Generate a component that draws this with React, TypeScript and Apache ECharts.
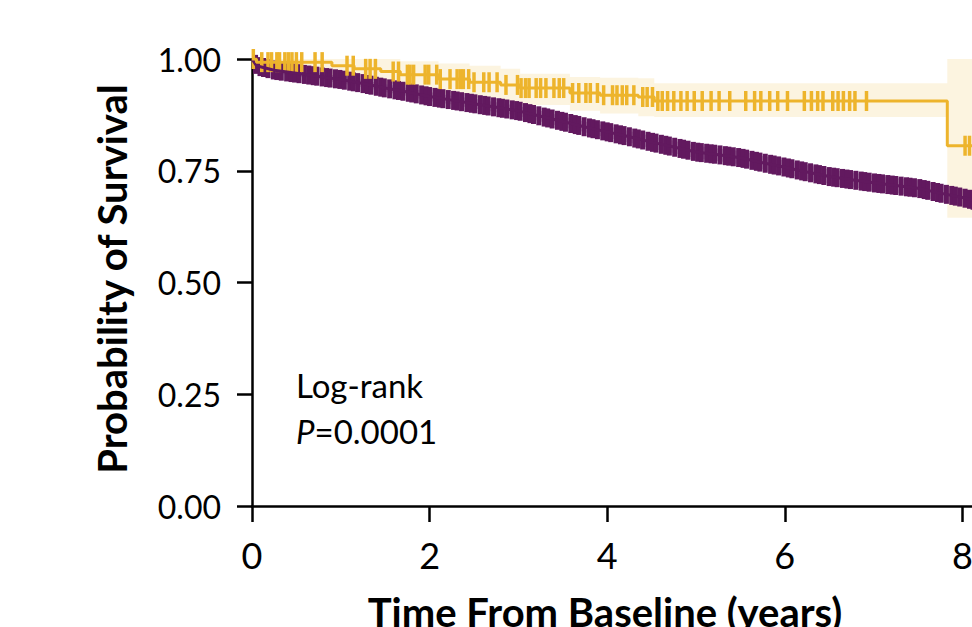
import React, { useEffect, useRef } from "react";
import * as echarts from "echarts";

// ---- Data ----
const xTitle = "Time From Baseline (years)";
const yTitle = "Probability of Survival";
const yTickLabels = ["0.00", "0.25", "0.50", "0.75", "1.00"];

// Group 1 (purple)
const purpleT = [0, 0.05, 0.25, 0.5, 0.75, 1.0, 1.25, 1.5, 1.75, 2.0, 2.25, 2.5, 2.75, 3.0, 3.25, 3.5, 3.75, 4.0, 4.25, 4.5, 4.75, 5.0, 5.25, 5.5, 5.75, 6.0, 6.25, 6.5, 6.75, 7.0, 7.25, 7.5, 7.75, 8.0, 8.25];
const purpleS = [1.0, 0.985, 0.975, 0.968, 0.961, 0.954, 0.945, 0.935, 0.926, 0.916, 0.908, 0.9, 0.892, 0.884, 0.872, 0.86, 0.848, 0.837, 0.826, 0.814, 0.803, 0.792, 0.786, 0.779, 0.768, 0.758, 0.747, 0.737, 0.73, 0.723, 0.717, 0.711, 0.7, 0.69, 0.678];
const purpleUpper = [1.0, 0.99, 0.981, 0.975, 0.968, 0.962, 0.953, 0.944, 0.935, 0.926, 0.918, 0.911, 0.903, 0.895, 0.884, 0.872, 0.86, 0.85, 0.839, 0.828, 0.817, 0.806, 0.8, 0.794, 0.783, 0.773, 0.763, 0.753, 0.746, 0.74, 0.734, 0.729, 0.719, 0.71, 0.699];
const purpleLower = [1.0, 0.98, 0.969, 0.961, 0.954, 0.946, 0.937, 0.926, 0.917, 0.906, 0.898, 0.889, 0.881, 0.873, 0.86, 0.848, 0.836, 0.824, 0.813, 0.8, 0.789, 0.778, 0.772, 0.764, 0.753, 0.743, 0.731, 0.721, 0.714, 0.706, 0.7, 0.693, 0.681, 0.67, 0.657];
const purpleCensor = [0.04, 0.09, 0.13, 0.18, 0.24, 0.28, 0.33, 0.39, 0.44, 0.48, 0.53, 0.59, 0.64, 0.69, 0.73, 0.79, 0.84, 0.88, 0.94, 0.99, 1.04, 1.1, 1.14, 1.19, 1.25, 1.3, 1.34, 1.4, 1.45, 1.49, 1.55, 1.61, 1.65, 1.7, 1.76, 1.8, 1.85, 1.91, 1.96, 2.0, 2.06, 2.11, 2.15, 2.21, 2.27, 2.31, 2.36, 2.42, 2.47, 2.51, 2.57, 2.62, 2.66, 2.72, 2.78, 2.82, 2.87, 2.93, 2.98, 3.02, 3.08, 3.13, 3.17, 3.23, 3.29, 3.33, 3.38, 3.44, 3.49, 3.53, 3.59, 3.64, 3.68, 3.74, 3.8, 3.84, 3.89, 3.95, 4.0, 4.04, 4.1, 4.15, 4.19, 4.25, 4.31, 4.35, 4.4, 4.46, 4.51, 4.55, 4.61, 4.66, 4.7, 4.76, 4.82, 4.86, 4.91, 4.97, 5.02, 5.06, 5.12, 5.17, 5.21, 5.27, 5.33, 5.37, 5.42, 5.48, 5.53, 5.57, 5.63, 5.68, 5.72, 5.78, 5.84, 5.88, 5.93, 5.99, 6.04, 6.08, 6.14, 6.19, 6.23, 6.29, 6.35, 6.39, 6.44, 6.5, 6.55, 6.59, 6.65, 6.7, 6.74, 6.8, 6.86, 6.9, 6.95, 7.01, 7.06, 7.1, 7.16, 7.21, 7.25, 7.31, 7.37, 7.41, 7.46, 7.52, 7.57, 7.61, 7.67, 7.72, 7.76, 7.82, 7.88, 7.92, 7.97, 8.03, 8.08, 8.12, 8.18, 8.23];

// Group 2 (yellow) - Kaplan-Meier steps
const yellowT = [0, 0.05, 0.9, 1.15, 1.45, 1.67, 2.1, 2.45, 2.8, 3.02, 3.58, 3.92, 4.35, 4.53, 7.83, 8.4];
const yellowS = [1.0, 0.993, 0.985, 0.978, 0.972, 0.965, 0.955, 0.948, 0.942, 0.935, 0.924, 0.919, 0.915, 0.906, 0.806, 0.806];
const yellowUpper = [1.0, 1.0, 1.0, 1.0, 1.0, 0.995, 0.99, 0.985, 0.978, 0.967, 0.96, 0.958, 0.957, 0.946, 1.0, 1.0];
const yellowLower = [1.0, 0.975, 0.962, 0.952, 0.944, 0.935, 0.922, 0.913, 0.905, 0.897, 0.884, 0.878, 0.872, 0.87, 0.645, 0.645];
const yellowCensor = [0.015, 0.11, 0.18, 0.22, 0.28, 0.31, 0.37, 0.41, 0.45, 0.5, 0.56, 0.71, 0.79, 1.07, 1.14, 1.28, 1.33, 1.39, 1.59, 1.65, 1.75, 1.78, 1.82, 1.95, 1.99, 2.08, 2.12, 2.23, 2.31, 2.35, 2.38, 2.44, 2.5, 2.61, 2.67, 2.76, 2.86, 2.99, 3.03, 3.08, 3.12, 3.2, 3.25, 3.31, 3.4, 3.46, 3.51, 3.61, 3.68, 3.76, 3.81, 3.89, 3.96, 4.06, 4.11, 4.17, 4.22, 4.3, 4.4, 4.45, 4.51, 4.57, 4.62, 4.68, 4.75, 4.83, 4.9, 4.98, 5.07, 5.17, 5.26, 5.38, 5.56, 5.66, 5.73, 5.83, 5.92, 6.03, 6.22, 6.3, 6.37, 6.43, 6.54, 6.6, 6.66, 6.73, 6.79, 6.92, 8.03, 8.08];

const PURPLE = "#62195F";
const YELLOW = "#EDB42C";
const FONT = "Lato";

function interp(ts: number[], vs: number[], t: number): number {
  for (let i = 1; i < ts.length; i++) {
    if (t <= ts[i]) {
      const f = (t - ts[i - 1]) / (ts[i] - ts[i - 1]);
      return vs[i - 1] + f * (vs[i] - vs[i - 1]);
    }
  }
  return vs[vs.length - 1];
}
function stepVal(ts: number[], vs: number[], t: number): number {
  let v = vs[0];
  for (let i = 0; i < ts.length; i++) if (ts[i] <= t) v = vs[i];
  return v;
}

// band polygon builders (in data space); converted with the axis scales in renderItem
function smoothBand(ts: number[], lo: number[], hi: number[]): number[][] {
  const top = ts.map((t, i) => [t, hi[i]]);
  const bot = ts.map((t, i) => [t, lo[i]]).reverse();
  return top.concat(bot);
}
function stepBand(ts: number[], lo: number[], hi: number[]): number[][] {
  const top: number[][] = [];
  const bot: number[][] = [];
  for (let i = 0; i < ts.length; i++) {
    const tNext = i < ts.length - 1 ? ts[i + 1] : ts[i];
    top.push([ts[i], hi[i]], [tNext, hi[i]]);
    bot.push([ts[i], lo[i]], [tNext, lo[i]]);
  }
  return top.concat(bot.reverse());
}

export default function App() {
  const ref = useRef<HTMLDivElement>(null);
  useEffect(() => {
    if (!ref.current) return;
    const chart = echarts.init(ref.current, undefined, { renderer: "svg" });
    const pair = (ts: number[], vs: number[]) => ts.map((t, i) => [t, vs[i]]);
    const bandSeries = (pts: number[][], color: string) => ({
      type: "custom",
      silent: true,
      data: [[pts[0][0], pts[0][1]]],
      renderItem: (_p: any, api: any) => ({
        type: "polygon",
        shape: { points: pts.map((p) => api.coord(p)) },
        style: { fill: color },
      }),
    });
    const option: any = {
      animation: false,
      backgroundColor: "#fff",
      grid: { left: 252, top: 59, width: 888, height: 447 },
      xAxis: {
        type: "value", min: 0, max: 10, interval: 2,
        axisLine: { lineStyle: { color: "#000", width: 2.5 } },
        axisTick: { length: 16, lineStyle: { color: "#000", width: 2.5 } },
        axisLabel: { color: "#000", fontSize: 36, fontFamily: FONT, margin: 31 },
        splitLine: { show: false },
      },
      yAxis: {
        type: "value", min: 0, max: 1, interval: 0.25,
        axisLine: { show: true, lineStyle: { color: "#000", width: 2.5 } },
        axisTick: { show: true, length: 15, lineStyle: { color: "#000", width: 2.5 } },
        axisLabel: {
          color: "#000", fontSize: 32, fontFamily: FONT, margin: 31,
          formatter: (v: number) => yTickLabels[Math.round(v / 0.25)],
        },
        splitLine: { show: false },
      },
      graphic: [
        {
          type: "text", x: 112, y: 279, rotation: Math.PI / 2,
          style: { text: yTitle, font: `bold 40px ${FONT}`, fill: "#000", align: "center", verticalAlign: "middle" },
        },
        {
          type: "text", x: 605, y: 612,
          style: { text: xTitle, font: `bold 40px ${FONT}`, fill: "#000", align: "center", verticalAlign: "middle" },
        },
        {
          type: "text", x: 296, y: 385,
          style: { text: "Log-rank", font: `33px ${FONT}`, fill: "#000", align: "left", verticalAlign: "middle" },
        },
        {
          type: "text", x: 296, y: 431,
          style: {
            text: "{i|P}{r|=0.0001}", align: "left", verticalAlign: "middle",
            rich: {
              i: { font: `italic 33px ${FONT}`, fill: "#000" },
              r: { font: `33px ${FONT}`, fill: "#000" },
            },
          },
        },
      ],
      series: [
        bandSeries(smoothBand(purpleT, purpleLower, purpleUpper), "rgba(98,25,95,0.3)"),
        { type: "line", data: pair(purpleT, purpleS), symbol: "none", lineStyle: { color: PURPLE, width: 3 } },
        {
          type: "scatter", data: purpleCensor.map((t) => [t, interp(purpleT, purpleS, t)]),
          symbol: "rect", symbolSize: [5, 19], itemStyle: { color: PURPLE, opacity: 1 },
        },
        bandSeries(stepBand(yellowT, yellowLower, yellowUpper), "rgba(237,180,44,0.15)"),
        { type: "line", step: "end", data: pair(yellowT, yellowS), symbol: "none", lineStyle: { color: YELLOW, width: 3 } },
        {
          type: "scatter", data: yellowCensor.map((t) => [t, stepVal(yellowT, yellowS, t)]),
          symbol: "rect", symbolSize: [3.5, 20], itemStyle: { color: YELLOW, opacity: 1 },
        },
      ],
    };
    chart.setOption(option);
    return () => chart.dispose();
  }, []);
  return (
    <div style={{ position: "fixed", left: 0, top: 0, width: 972, height: 627, overflow: "hidden", background: "#fff" }}>
      <div ref={ref} style={{ width: 1200, height: 627 }} />
    </div>
  );
}
